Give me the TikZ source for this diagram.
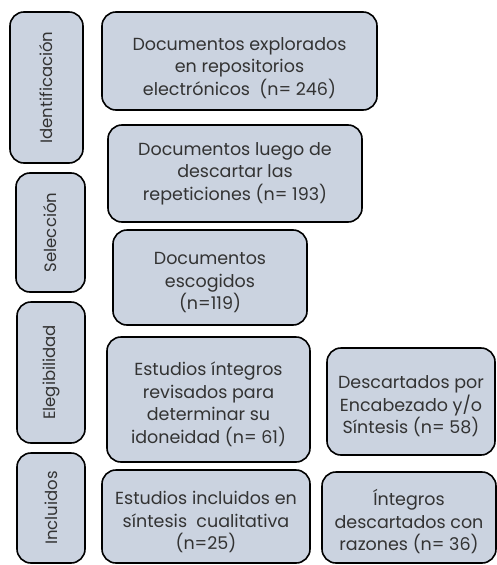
\documentclass[tikz,border=0pt]{standalone}
\usepackage{fontspec}
\setmainfont{Poppins}
\usepackage{tikz}
\usetikzlibrary{calc, positioning}
\definecolor{boxFill}{HTML}{CBD3E0}
\definecolor{boxText}{HTML}{333333}
\newcommand{\lineLift}[1]{\rule{0pt}{#1}}

\begin{document}
\begin{tikzpicture}[x = 1pt, y = -1pt,
    phase/.style = {draw = black, line width = 1.6pt, fill = boxFill, rounded corners = 14pt,
      text = boxText, inner sep = 0pt, font = \fontsize{16.5}{22}\selectfont},
    stage/.style = {phase, align = center, font = \fontsize{17.5}{22.5}\selectfont}]

  \useasboundingbox (0, 0) rectangle (497, 565);

  % ------------------------
  % phases (left column)
  % ------------------------

  \node[phase, minimum width = 151pt, minimum height = 73pt, rotate = 90] (ident) at (46.5, 87.5) {Identificación};
  \node[phase, minimum width = 119pt, minimum height = 69pt, rotate = 90] (selec) at (50.5, 232.5) {Selección};
  \node[phase, minimum width = 141pt, minimum height = 68pt, rotate = 90] (elegi) at (51, 372.5) {Elegibilidad};
  \node[phase, minimum width = 110pt, minimum height = 68pt, rotate = 90] (inclu) at (51, 508) {Incluidos};

  % ------------------------
  % stages (middle column)
  % ------------------------

  \node[stage, minimum width = 275pt, minimum height = 98pt] (explor) at (239.5, 61)
    {\lineLift{27pt}Documentos explorados\\ en repositorios\\ electrónicos~~(n= 246)};
  \node[stage, minimum width = 254pt, minimum height = 97pt] (repet) at (235, 173.5)
    {Documentos luego de\\ descartar las\\ repeticiones (n= 193)};
  \node[stage, minimum width = 194pt, minimum height = 95pt] (escog) at (210, 277.5)
    {\lineLift{23pt}Documentos\\ escogidos\\ (n=119)};
  \node[stage, minimum width = 203pt, minimum height = 125pt] (integ) at (208.5, 399.5)
    {\lineLift{23pt}Estudios íntegros\\ revisados para\\ determinar su\\ idoneidad (n= 61)};
  \node[stage, minimum width = 208pt, minimum height = 93pt] (sintes) at (206, 516.5)
    {\lineLift{25pt}Estudios incluidos en\\ síntesis~~cualitativa\\ (n=25)};

  % ------------------------
  % discarded (right column)
  % ------------------------

  \node[stage, minimum width = 168pt, minimum height = 107pt] (encab) at (411, 401.5)
    {\lineLift{23pt}Descartados por\\ Encabezado y/o\\ Síntesis (n= 58)};
  \node[stage, minimum width = 174pt, minimum height = 91pt] (razon) at (409, 517.5)
    {\lineLift{25pt}Íntegros\\ descartados con\\ razones (n= 36)};
\end{tikzpicture}
\end{document}
